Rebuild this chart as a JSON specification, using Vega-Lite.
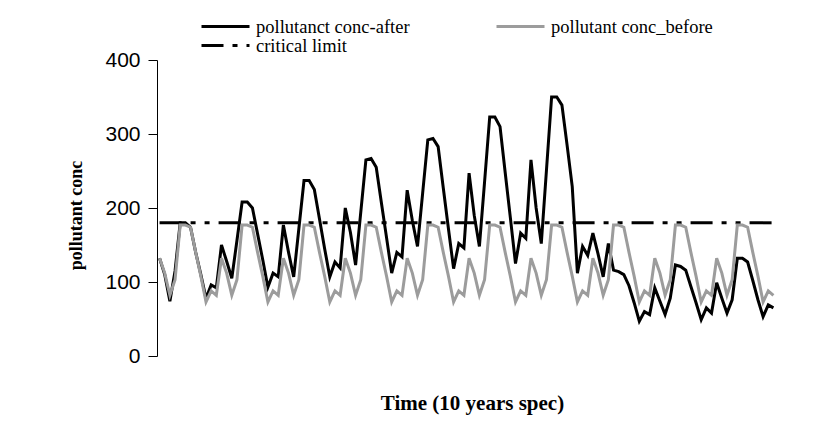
{
  "$schema": "https://vega.github.io/schema/vega-lite/v6.json",
  "width": 619,
  "height": 296,
  "autosize": {"type": "none"},
  "padding": {"left": 157, "top": 60, "right": 51, "bottom": 66},
  "background": "white",
  "config": {"view": {"stroke": null}},
  "datasets": {
    "after": [
      {"t":0,"v":132},{"t":1,"v":110},{"t":2,"v":74},{"t":3,"v":115},{"t":4,"v":180},{"t":5,"v":180},{"t":6,"v":174},{"t":7,"v":140},{"t":8,"v":110},{"t":9,"v":78},{"t":10,"v":96},{"t":11,"v":92},
      {"t":12,"v":150},{"t":13,"v":128},{"t":14,"v":105},{"t":15,"v":156},{"t":16,"v":208},{"t":17,"v":208},{"t":18,"v":200},{"t":19,"v":165},{"t":20,"v":130},{"t":21,"v":93},{"t":22,"v":112},{"t":23,"v":107},
      {"t":24,"v":177},{"t":25,"v":140},{"t":26,"v":107},{"t":27,"v":172},{"t":28,"v":237},{"t":29,"v":237},{"t":30,"v":225},{"t":31,"v":185},{"t":32,"v":145},{"t":33,"v":107},{"t":34,"v":127},{"t":35,"v":119},
      {"t":36,"v":200},{"t":37,"v":167},{"t":38,"v":123},{"t":39,"v":194},{"t":40,"v":265},{"t":41,"v":267},{"t":42,"v":255},{"t":43,"v":207},{"t":44,"v":160},{"t":45,"v":112},{"t":46,"v":140},{"t":47,"v":134},
      {"t":48,"v":224},{"t":49,"v":183},{"t":50,"v":148},{"t":51,"v":220},{"t":52,"v":292},{"t":53,"v":294},{"t":54,"v":283},{"t":55,"v":227},{"t":56,"v":172},{"t":57,"v":118},{"t":58,"v":152},{"t":59,"v":146},
      {"t":60,"v":247},{"t":61,"v":190},{"t":62,"v":148},{"t":63,"v":235},{"t":64,"v":323},{"t":65,"v":323},{"t":66,"v":310},{"t":67,"v":248},{"t":68,"v":187},{"t":69,"v":125},{"t":70,"v":166},{"t":71,"v":159},
      {"t":72,"v":265},{"t":73,"v":200},{"t":74,"v":152},{"t":75,"v":251},{"t":76,"v":350},{"t":77,"v":350},{"t":78,"v":339},{"t":79,"v":285},{"t":80,"v":229},{"t":81,"v":112},{"t":82,"v":148},{"t":83,"v":136},
      {"t":84,"v":166},{"t":85,"v":138},{"t":86,"v":107},{"t":87,"v":152},{"t":88,"v":116},{"t":89,"v":114},{"t":90,"v":110},{"t":91,"v":95},{"t":92,"v":72},{"t":93,"v":47},{"t":94,"v":60},{"t":95,"v":56},
      {"t":96,"v":92},{"t":97,"v":74},{"t":98,"v":56},{"t":99,"v":78},{"t":100,"v":123},{"t":101,"v":121},{"t":102,"v":116},{"t":103,"v":94},{"t":104,"v":72},{"t":105,"v":49},{"t":106,"v":65},{"t":107,"v":58},
      {"t":108,"v":99},{"t":109,"v":78},{"t":110,"v":58},{"t":111,"v":76},{"t":112,"v":132},{"t":113,"v":132},{"t":114,"v":127},{"t":115,"v":102},{"t":116,"v":76},{"t":117,"v":53},{"t":118,"v":69},{"t":119,"v":65}
    ],
    "before": [
      {"t":0,"v":132},{"t":1,"v":112},{"t":2,"v":82},{"t":3,"v":103},{"t":4,"v":177},{"t":5,"v":177},{"t":6,"v":174},{"t":7,"v":140},{"t":8,"v":108},{"t":9,"v":73},{"t":10,"v":88},{"t":11,"v":82},
      {"t":12,"v":132},{"t":13,"v":112},{"t":14,"v":82},{"t":15,"v":103},{"t":16,"v":177},{"t":17,"v":177},{"t":18,"v":174},{"t":19,"v":140},{"t":20,"v":108},{"t":21,"v":73},{"t":22,"v":88},{"t":23,"v":82},
      {"t":24,"v":132},{"t":25,"v":112},{"t":26,"v":82},{"t":27,"v":103},{"t":28,"v":177},{"t":29,"v":177},{"t":30,"v":174},{"t":31,"v":140},{"t":32,"v":108},{"t":33,"v":73},{"t":34,"v":88},{"t":35,"v":82},
      {"t":36,"v":132},{"t":37,"v":112},{"t":38,"v":82},{"t":39,"v":103},{"t":40,"v":177},{"t":41,"v":177},{"t":42,"v":174},{"t":43,"v":140},{"t":44,"v":108},{"t":45,"v":73},{"t":46,"v":88},{"t":47,"v":82},
      {"t":48,"v":132},{"t":49,"v":112},{"t":50,"v":82},{"t":51,"v":103},{"t":52,"v":177},{"t":53,"v":177},{"t":54,"v":174},{"t":55,"v":140},{"t":56,"v":108},{"t":57,"v":73},{"t":58,"v":88},{"t":59,"v":82},
      {"t":60,"v":132},{"t":61,"v":112},{"t":62,"v":82},{"t":63,"v":103},{"t":64,"v":177},{"t":65,"v":177},{"t":66,"v":174},{"t":67,"v":140},{"t":68,"v":108},{"t":69,"v":73},{"t":70,"v":88},{"t":71,"v":82},
      {"t":72,"v":132},{"t":73,"v":112},{"t":74,"v":82},{"t":75,"v":103},{"t":76,"v":177},{"t":77,"v":177},{"t":78,"v":174},{"t":79,"v":140},{"t":80,"v":108},{"t":81,"v":73},{"t":82,"v":88},{"t":83,"v":82},
      {"t":84,"v":132},{"t":85,"v":112},{"t":86,"v":82},{"t":87,"v":103},{"t":88,"v":177},{"t":89,"v":177},{"t":90,"v":174},{"t":91,"v":140},{"t":92,"v":108},{"t":93,"v":73},{"t":94,"v":88},{"t":95,"v":82},
      {"t":96,"v":132},{"t":97,"v":112},{"t":98,"v":82},{"t":99,"v":103},{"t":100,"v":177},{"t":101,"v":177},{"t":102,"v":174},{"t":103,"v":140},{"t":104,"v":108},{"t":105,"v":73},{"t":106,"v":88},{"t":107,"v":82},
      {"t":108,"v":132},{"t":109,"v":112},{"t":110,"v":82},{"t":111,"v":103},{"t":112,"v":177},{"t":113,"v":177},{"t":114,"v":174},{"t":115,"v":140},{"t":116,"v":108},{"t":117,"v":73},{"t":118,"v":88},{"t":119,"v":82}
    ],
    "limit": [{"t":0,"v":180},{"t":119,"v":180}]
  },
  "encoding": {
    "x": {
      "field": "t", "type": "quantitative",
      "scale": {"domain": [-0.5, 119.5], "nice": false, "zero": false},
      "axis": {"title": "Time (10 years spec)", "labels": false, "ticks": false, "domain": false, "grid": false,
        "titleFont": "Liberation Serif", "titleFontWeight": "bold", "titleFontSize": 21, "titleColor": "black",
        "titleX": 315, "titleY": 53, "titleBaseline": "alphabetic"}
    },
    "y": {
      "field": "v", "type": "quantitative",
      "scale": {"domain": [0, 400], "nice": false},
      "axis": {"title": "pollutant conc", "values": [0, 100, 200, 300, 400], "grid": false,
        "labelFont": "Liberation Sans", "labelFontSize": 21, "labelColor": "black", "labelPadding": 8,
        "tickSize": 9, "tickColor": "black", "domainColor": "black",
        "titleFont": "Liberation Serif", "titleFontWeight": "bold", "titleFontSize": 18, "titleColor": "black",
        "titleX": -76, "titleY": 155, "titleAngle": 270, "titleBaseline": "alphabetic"}
    }
  },
  "layer": [
    {"data": {"name": "limit"}, "mark": {"type": "line", "strokeWidth": 3, "strokeCap": "butt", "color": "black"},
     "encoding": {
       "strokeDash": {"datum": "critical limit", "type": "nominal", "title": null,
         "scale": {"domain": ["critical limit"], "range": [[22, 9, 5, 9, 5, 9]]},
         "legend": {"orient": "none", "legendX": 43, "legendY": -40,
           "symbolType": "stroke", "symbolSize": 2304, "symbolStrokeWidth": 3, "symbolStrokeColor": "black",
           "labelFont": "Liberation Serif", "labelFontSize": 18.5, "labelColor": "black", "labelOffset": 5, "labelLimit": 400}}}},
    {"data": {"name": "after"}, "mark": {"type": "line", "strokeWidth": 3},
     "encoding": {"color": {"datum": "pollutanct conc-after", "type": "nominal"}}},
    {"data": {"name": "before"}, "mark": {"type": "line", "strokeWidth": 3},
     "encoding": {"color": {"datum": "pollutant conc_before", "type": "nominal", "title": null,
       "scale": {"domain": ["pollutanct conc-after", "pollutant conc_before"], "range": ["black", "#9c9c9c"]},
       "legend": {"orient": "none", "legendX": 43, "legendY": -59, "direction": "horizontal", "columnPadding": 80,
         "symbolType": "stroke", "symbolSize": 2304, "symbolStrokeWidth": 3,
         "labelFont": "Liberation Serif", "labelFontSize": 18.5, "labelColor": "black", "labelOffset": 5, "labelLimit": 400}}}}
  ]
}
